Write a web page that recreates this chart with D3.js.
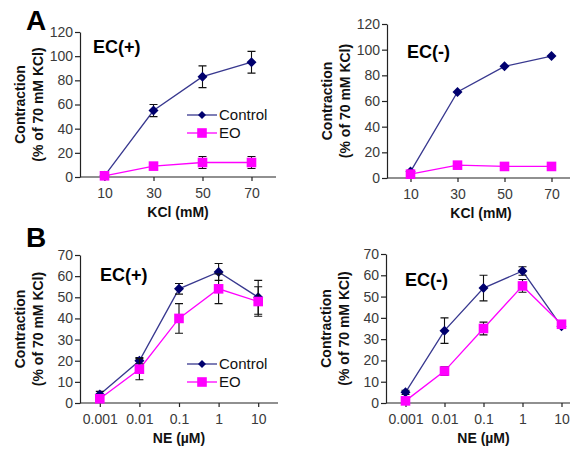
<!DOCTYPE html>
<html>
<head>
<meta charset="utf-8">
<script src="https://cdn.jsdelivr.net/npm/d3@7"></script>
<style>
  body { margin: 0; background: #fff; }
  text { font-family: "Liberation Sans", Arial, sans-serif; }
</style>
</head>
<body>
<svg width="570" height="449"></svg>
<script>
// data
var kclDoses = ['10', '30', '50', '70'];
var neDoses = ['0.001', '0.01', '0.1', '1', '10'];

var aPlusControl = [1, 55, 83, 95];
var aPlusControlErr = [0, 5, 9, 9];
var aPlusEO = [1, 9, 12, 12];
var aPlusEOErr = [0, 2, 5, 5];

var aMinusControl = [5, 67, 87, 95];
var aMinusControlErr = [0, 0, 0, 0];
var aMinusEO = [3, 10, 9, 9];
var aMinusEOErr = [0, 0, 0, 0];

var bPlusControl = [4, 20, 54, 62, 50];
var bPlusControlErr = [1.5, 1.5, 2.5, 4, 8];
var bPlusEO = [2, 16, 40, 54, 48];
var bPlusEOErr = [1, 5, 7, 7, 7];

var bMinusControl = [5, 34, 54, 62, 36];
var bMinusControlErr = [1, 6, 6, 2, 0];
var bMinusEO = [1, 15, 35, 55, 37];
var bMinusEOErr = [0, 2, 3, 3, 0];

var svg = d3.select('svg');
var navy = '#00006e';
var navyLine = '#38388f';
var pink = '#ff00ff';

function panel(o) {
    var g = svg.append('g');
    var x = d3.scalePoint().domain(o.cats).range([o.x0, o.x1]).padding(0.5);
    var y = d3.scaleLinear().domain([0, o.ymax]).range([o.yb, o.yt]);

    var xAxis = g.append('g').attr('transform', 'translate(0,' + o.yb + ')')
        .call(d3.axisBottom(x).tickSize(4).tickSizeOuter(0));
    xAxis.select('.domain').attr('d', 'M' + o.x0 + ',0H' + o.x1);
    var yAxis = g.append('g').attr('transform', 'translate(' + o.x0 + ',0)')
        .call(d3.axisLeft(y).tickValues(d3.range(0, o.ymax + 1, o.step)).tickSize(5).tickSizeOuter(0));
    [xAxis, yAxis].forEach(function (a) {
        a.selectAll('.domain, line').attr('stroke', '#222').attr('stroke-width', 1.2);
        a.selectAll('text').attr('fill', '#3a3a3a').style('font-size', '14px');
    });
    xAxis.selectAll('text').attr('dy', '1.0em');
    yAxis.selectAll('text').attr('x', -7);

    var series = [
        { v: o.ctrl, e: o.ctrlErr, line: navyLine, fill: navy, shape: 'diamond', size: 5 },
        { v: o.eo, e: o.eoErr, line: pink, fill: pink, shape: 'square', size: 4.8 }
    ];
    function marker(sel, s, k) {
        var r = s.size * k;
        if (s.shape === 'diamond') {
            sel.append('path').attr('d', 'M0,' + (-r) + 'L' + r + ',0L0,' + r + 'L' + (-r) + ',0Z').attr('fill', s.fill);
        } else {
            sel.append('rect').attr('x', -r).attr('y', -r).attr('width', 2 * r).attr('height', 2 * r).attr('fill', s.fill);
        }
    }
    series.forEach(function (s) {
        var line = d3.line().x(function (d, i) { return x(o.cats[i]); }).y(function (d) { return y(d); });
        g.append('path').datum(s.v).attr('d', line).attr('fill', 'none')
            .attr('stroke', s.line).attr('stroke-width', 1.3);
    });
    series.forEach(function (s) {
        s.v.forEach(function (d, i) {
            if (!s.e[i]) return;
            var cx = x(o.cats[i]);
            var y1 = y(d + s.e[i]);
            var y2 = y(d - s.e[i]);
            g.append('path').attr('d', 'M' + cx + ',' + y1 + 'V' + y2 + 'M' + (cx - 4) + ',' + y1 + 'H' + (cx + 4) + 'M' + (cx - 4) + ',' + y2 + 'H' + (cx + 4))
                .attr('stroke', '#111').attr('stroke-width', 1.1).attr('fill', 'none');
        });
        g.selectAll(null).data(s.v).enter().append('g')
            .attr('transform', function (d, i) { return 'translate(' + x(o.cats[i]) + ',' + y(d) + ')'; })
            .each(function () { marker(d3.select(this), s, 1); });
    });

    // labels
    var yc = (o.yb + o.yt) / 2;
    g.append('text').attr('transform', 'translate(' + (o.x0 - 60) + ',' + yc + ') rotate(-90)')
        .attr('text-anchor', 'middle').attr('dy', '0.35em').style('font-size', '14px').style('font-weight', 'bold')
        .attr('fill', '#111').text('Contraction');
    g.append('text').attr('transform', 'translate(' + (o.x0 - 42) + ',' + yc + ') rotate(-90)')
        .attr('text-anchor', 'middle').attr('dy', '0.35em').style('font-size', '14px').style('font-weight', 'bold')
        .attr('fill', '#111').text('(% of 70 mM KCl)');
    g.append('text').attr('x', (o.x0 + o.x1) / 2).attr('y', o.yb + 40)
        .attr('text-anchor', 'middle').style('font-size', '14px').style('font-weight', 'bold')
        .attr('fill', '#111').text(o.xlabel);
    g.append('text').attr('x', o.tx).attr('y', o.ty).style('font-size', '18px').style('font-weight', 'bold')
        .text(o.title);
    if (o.letter) {
        g.append('text').attr('x', o.lx).attr('y', o.ly).style('font-size', '28px').style('font-weight', 'bold')
            .text(o.letter);
    }
    if (o.legend) {
        var lg = g.append('g').attr('transform', 'translate(' + o.legend[0] + ',' + o.legend[1] + ')');
        series.forEach(function (s, i) {
            var yy = i * 18;
            lg.append('line').attr('x1', 0).attr('x2', 30).attr('y1', yy).attr('y2', yy)
                .attr('stroke', s.line).attr('stroke-width', 1.3);
            marker(lg.append('g').attr('transform', 'translate(15,' + yy + ')'), s, i === 0 ? 0.8 : 1);
            lg.append('text').attr('x', 32).attr('y', yy + 5).style('font-size', '15px')
                .attr('fill', '#111').text(i === 0 ? 'Control' : 'EO');
        });
    }
}

panel({ cats: kclDoses, x0: 80, x1: 276, yb: 177, yt: 32, ymax: 120, step: 20,
    ctrl: aPlusControl, ctrlErr: aPlusControlErr, eo: aPlusEO, eoErr: aPlusEOErr,
    xlabel: 'KCl (mM)', title: 'EC(+)', tx: 93, ty: 53, letter: 'A', lx: 26, ly: 30, legend: [187, 115] });
panel({ cats: kclDoses, x0: 387, x1: 575, yb: 178, yt: 24, ymax: 120, step: 20,
    ctrl: aMinusControl, ctrlErr: aMinusControlErr, eo: aMinusEO, eoErr: aMinusEOErr,
    xlabel: 'KCl (mM)', title: 'EC(-)', tx: 407, ty: 58 });
panel({ cats: neDoses, x0: 80, x1: 278, yb: 403, yt: 255, ymax: 70, step: 10,
    ctrl: bPlusControl, ctrlErr: bPlusControlErr, eo: bPlusEO, eoErr: bPlusEOErr,
    xlabel: 'NE (\u00b5M)', title: 'EC(+)', tx: 100, ty: 281, letter: 'B', lx: 26, ly: 247, legend: [187, 364] });
panel({ cats: neDoses, x0: 386, x1: 581, yb: 403, yt: 254, ymax: 70, step: 10,
    ctrl: bMinusControl, ctrlErr: bMinusControlErr, eo: bMinusEO, eoErr: bMinusEOErr,
    xlabel: 'NE (\u00b5M)', title: 'EC(-)', tx: 405, ty: 286 });
</script>
</body>
</html>
